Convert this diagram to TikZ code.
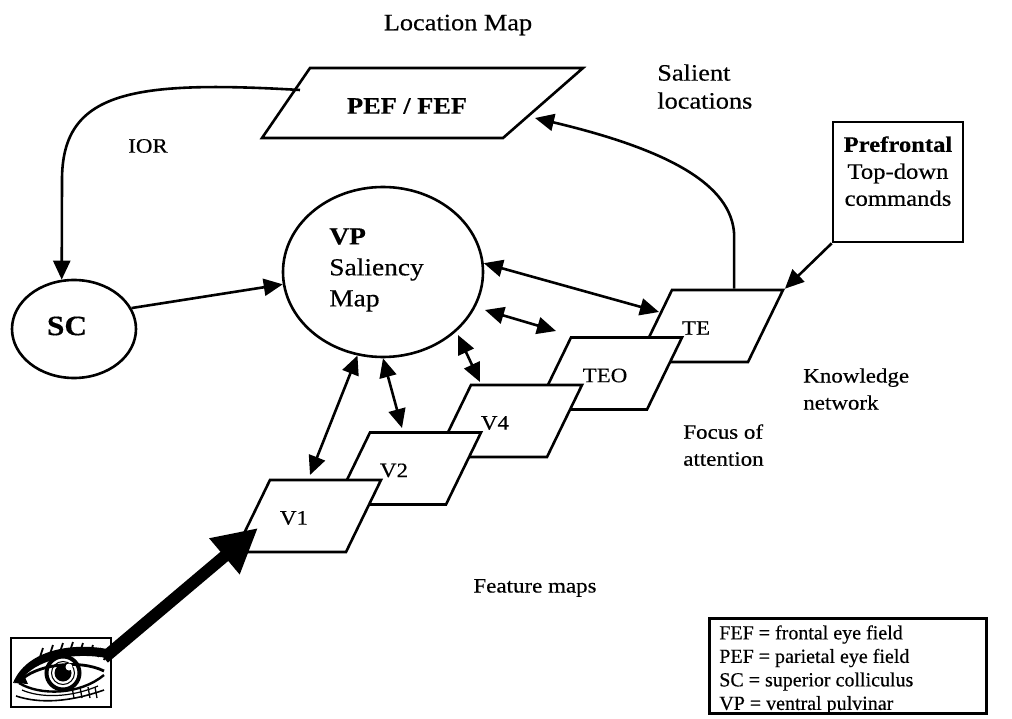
\documentclass[tikz,border=0pt]{standalone}
\usepackage{fontspec}
\setmainfont{Liberation Serif}[FakeStretch=1.12,FakeBold=0.4]
\newfontfamily\legendfont{Liberation Serif}[FakeBold=0.4]
\usetikzlibrary{arrows.meta,shapes.geometric}

\begin{document}
\begin{tikzpicture}[x=1pt,y=-1pt,line width=2.6pt,
  txt/.style={font=\fontsize{23.5}{28}\selectfont, inner sep=0pt},
  smalltxt/.style={font=\fontsize{20.5}{27}\selectfont, inner sep=0pt},
  maptxt/.style={font=\fontsize{20.5}{24}\selectfont, inner sep=0pt},
  legendtxt/.style={font=\legendfont\fontsize{20}{23.5}\selectfont, inner sep=0pt, align=left},
  fmap/.style={draw, fill=white, minimum width=111pt, minimum height=72pt,
               inner sep=0pt, xslant=0.486},
  tip/.style={-{Triangle[length=19pt,width=17pt]}},
  both/.style={{Triangle[length=19pt,width=17pt]}-{Triangle[length=19pt,width=17pt]}},
  bigtip/.style={-{Triangle[length=44pt,width=44pt]}, line width=12pt},
]
\useasboundingbox (0,0) rectangle (1012,719);

% ---- titles and free labels
\node[txt] (loctitle) at (458,25) {Location Map};
\node[txt, align=left, anchor=north west] (salient) at (656,63) {Salient\\locations};
\node[smalltxt] (ior) at (148,146) {IOR};
\node[smalltxt, align=left, anchor=north west] (knowledge) at (802,367) {Knowledge\\network};
\node[smalltxt, align=left, anchor=north west] (focus) at (682,423) {Focus of\\attention};
\node[smalltxt] (featmaps) at (535,588) {Feature maps};

% ---- location map (PEF / FEF)
\draw[line join=miter] (310,68) -- (583,68) -- (503,138) -- (262,138) -- cycle;
\node[txt, font=\fontsize{23.5}{26}\selectfont\bfseries] (pef) at (407,106) {PEF / FEF};
\coordinate (pefL) at (300,90);
\coordinate (pefR) at (535,118);

% ---- superior colliculus and ventral pulvinar
\node[ellipse, draw, minimum width=124pt, minimum height=98pt, inner sep=0pt] (sc) at (74,329) {};
\node[txt, font=\fontsize{28}{30}\selectfont\bfseries] (sctxt) at (67,326) {SC};
\node[ellipse, draw, minimum width=200pt, minimum height=170pt, inner sep=0pt] (vp) at (383,272) {};
\node[txt, align=left, anchor=north west, font=\fontsize{24.5}{31}\selectfont] (vptxt) at (328,227)
  {\textbf{VP}\\Saliency\\Map};

% ---- prefrontal box
\node[draw, minimum width=130pt, minimum height=120pt, inner sep=0pt] (pf) at (898,182) {};
\node[txt, font=\fontsize{22}{27}\selectfont, align=center, anchor=north] (pftxt) at (898,135)
  {\textbf{Prefrontal}\\Top-down\\commands};

% ---- feature maps, back to front
\node[fmap] (te)  at (710,326)   {};
\node[fmap] (teo) at (609,373.5) {};
\node[fmap] (v4)  at (509,421)   {};
\node[fmap] (v2)  at (408,468.5) {};
\node[fmap] (v1)  at (308,516)   {};
\node[maptxt] (tetxt)  at ([shift={(-14,2)}]te.center)  {TE};
\node[maptxt] (teotxt) at ([shift={(-4,2)}]teo.center)  {TEO};
\node[maptxt] (v4txt)  at ([shift={(-14,2)}]v4.center)  {V4};
\node[maptxt] (v2txt)  at ([shift={(-14,2)}]v2.center)  {V2};
\node[maptxt] (v1txt)  at ([shift={(-14,2)}]v1.center)  {V1};

% ---- end points of the short two-way arrows
\coordinate (a1b) at (310,475);
\coordinate (a2b) at (402,428);
\coordinate (a3a) at (458,335);
\coordinate (a3b) at (480,382);
\coordinate (a4a) at (485,310);
\coordinate (a4b) at (556,331);
\coordinate (a5b) at (659,312);

% ---- connectors
\draw[tip] (pefL) .. controls (130,80) and (62,92) .. (62,180) -- (sc.104);
\draw[tip] (sc.20) -- (vp.187);
\draw[tip] ([xshift=6pt]te.north) -- ++(0,-55) .. controls (731,185) and (670,150) .. (pefR);
\draw[tip] (pf.south west) -- (te.north east);
\draw[both] (vp.-107) -- (a1b);
\draw[both] (vp.-90) -- (a2b);
\draw[both] (a3a) -- (a3b);
\draw[both] (a4a) -- (a4b);
\draw[both] (vp.5) -- (a5b);

% ---- eye picture
\begin{scope}[shift={(10,637)}]
  \node[draw, line width=2pt, minimum width=100pt, minimum height=69pt, inner sep=0pt, anchor=north west] (eye) at (0,0) {};
  % heavy upper lid and dark inner corner
  \fill (3,46) .. controls (16,14) and (60,5) .. (97,12) -- (97,21) .. controls (62,15) and (26,22) .. (10,44) -- cycle;
  \fill (4,46) -- (14,38) -- (18,47) -- cycle;
  \draw[line width=2.8pt] (9,45) .. controls (25,27) and (70,22) .. (94,34);
  \draw[line width=2.4pt] (9,46) .. controls (30,59) and (70,58) .. (94,38);
  % iris, pupil, highlight
  \draw[line width=4pt] (53,36) circle (16.5);
  \draw[line width=1pt] (53,36) circle (11.5);
  \fill (53,36) circle (8.5);
  \fill[white] (59,30) circle (3.5);
  % lashes
  \foreach \a/\b in {30/14, 40/11, 50/9, 60/8, 70/9, 80/11, 88/14, 94/17}
    \draw[line width=1.8pt] (\a,\b+6) -- (\a+3,\b-3);
  % lower lid creases
  \draw[line width=1.6pt] (6,59) .. controls (30,67) and (60,65) .. (94,53);
  \draw[line width=1.2pt] (12,53) .. controls (30,61) and (60,61) .. (88,49);
  \foreach \a in {62,70,78,85}
    \draw[line width=1.3pt] (\a,50) -- (\a+2,61);
\end{scope}
\coordinate (eyeout) at (104,658);
\coordinate (v1in) at (258,528);
\draw[bigtip] (eyeout) -- (v1in);

% ---- legend
\node[draw, minimum width=277pt, minimum height=95pt, inner sep=0pt, anchor=north west] (legend) at (708,617) {};
\node[legendtxt, anchor=north west] (legendtxt) at (718,624)
  {FEF = frontal eye field\\PEF = parietal eye field\\SC = superior colliculus\\VP = ventral pulvinar};
\end{tikzpicture}
\end{document}
